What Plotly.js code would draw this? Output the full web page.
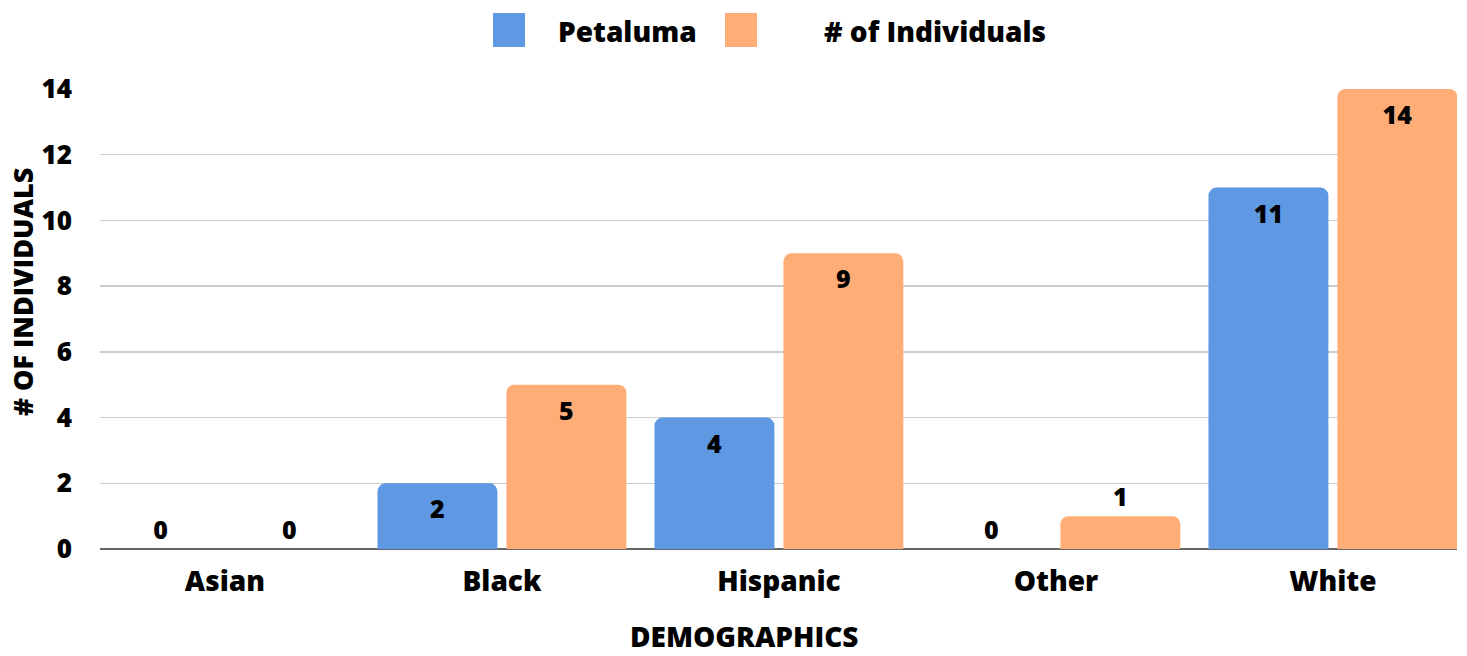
<!DOCTYPE html>
<html>
<head>
<meta charset="utf-8">
<script src="https://cdn.plot.ly/plotly-3.0.1.min.js"></script>
<style>html,body{margin:0;padding:0;background:#fff;}#chart{width:1467px;height:656px;}</style>
</head>
<body>
<div id="chart"></div>
<script>
var categories = ["Asian", "Black", "Hispanic", "Other", "White"];
var seriesNames = ["Petaluma", "# of Individuals"];
var petaluma = [0, 2, 4, 0, 11];
var individuals = [0, 5, 9, 1, 14];
var yTicks = [0, 2, 4, 6, 8, 10, 12, 14];
var xTitle = "DEMOGRAPHICS";
var yTitle = "# OF INDIVIDUALS";
var colors = ["#5f98e3", "#ffad76"];

var FONT = "'Open Sans', Lato, sans-serif";
var W = 800;

function positions(vals) {
  return vals.map(function (v) { return v >= 2 ? "inside" : "outside"; });
}

function makeTrace(name, vals, color) {
  return {
    type: "bar",
    name: name,
    x: categories,
    y: vals,
    text: vals.map(String),
    textposition: positions(vals),
    insidetextanchor: "end",
    textangle: 0,
    constraintext: "none",
    cliponaxis: false,
    textfont: {family: FONT, size: 25, color: "#000", weight: W},
    marker: {color: color, cornerradius: 8, line: {width: 0}},
    showlegend: false,
    hoverinfo: "x+y"
  };
}

var data = [
  makeTrace(seriesNames[0], petaluma, colors[0]),
  makeTrace(seriesNames[1], individuals, colors[1])
];

// plot area: x 100..1457, y 89..549 (pixels)
function px(x) { return (x - 100) / 1357; }
function py(y) { return (549 - y) / 460; }

var layout = {
  width: 1467,
  height: 656,
  margin: {l: 100, r: 10, t: 89, b: 107},
  paper_bgcolor: "#fff",
  plot_bgcolor: "#fff",
  font: {family: FONT, color: "#000"},
  barmode: "group",
  bargap: 0.069,
  bargroupgap: 0.07,
  xaxis: {
    type: "category",
    range: [-0.451, 4.448],
    showgrid: false,
    zeroline: false,
    showline: false,
    ticks: "",
    ticklabelstandoff: 13,
    tickfont: {family: FONT, size: 28, color: "#000", weight: W},
    automargin: false,
    fixedrange: true
  },
  yaxis: {
    range: [0, 14],
    tickvals: yTicks,
    ticktext: yTicks.map(String),
    showgrid: true,
    gridcolor: "#cccccc",
    gridwidth: 1.5,
    zeroline: true,
    zerolinecolor: "#666666",
    zerolinewidth: 2,
    showline: false,
    ticks: "",
    ticklabelstandoff: 27,
    tickfont: {family: FONT, size: 26, color: "#000", weight: W},
    automargin: false,
    fixedrange: true
  },
  shapes: [
    {type: "rect", xref: "paper", yref: "paper", xsizemode: "pixel", ysizemode: "pixel",
     xanchor: 0.0, yanchor: 1.0, x0: 393, x1: 425, y0: 42, y1: 76,
     fillcolor: colors[0], line: {width: 0}},
    {type: "rect", xref: "paper", yref: "paper", xsizemode: "pixel", ysizemode: "pixel",
     xanchor: 0.0, yanchor: 1.0, x0: 625, x1: 657, y0: 42, y1: 76,
     fillcolor: colors[1], line: {width: 0}}
  ],
  annotations: [
    {xref: "paper", yref: "paper", x: px(556), y: py(31), xanchor: "left", yanchor: "middle",
     text: seriesNames[0], showarrow: false, font: {family: FONT, size: 28, color: "#000", weight: W}},
    {xref: "paper", yref: "paper", x: px(822), y: py(31), xanchor: "left", yanchor: "middle",
     text: seriesNames[1], showarrow: false, font: {family: FONT, size: 28, color: "#000", weight: W}},
    {xref: "paper", yref: "paper", x: px(744), y: py(636), xanchor: "center", yanchor: "middle",
     text: xTitle, showarrow: false, font: {family: FONT, size: 28, color: "#000", weight: W}},
    {xref: "paper", yref: "paper", x: px(22), y: py(292), xanchor: "center", yanchor: "middle",
     textangle: -90, text: yTitle, showarrow: false, font: {family: FONT, size: 27, color: "#000", weight: W}}
  ]
};

Plotly.newPlot("chart", data, layout, {displayModeBar: false, staticPlot: true});
</script>
</body>
</html>
